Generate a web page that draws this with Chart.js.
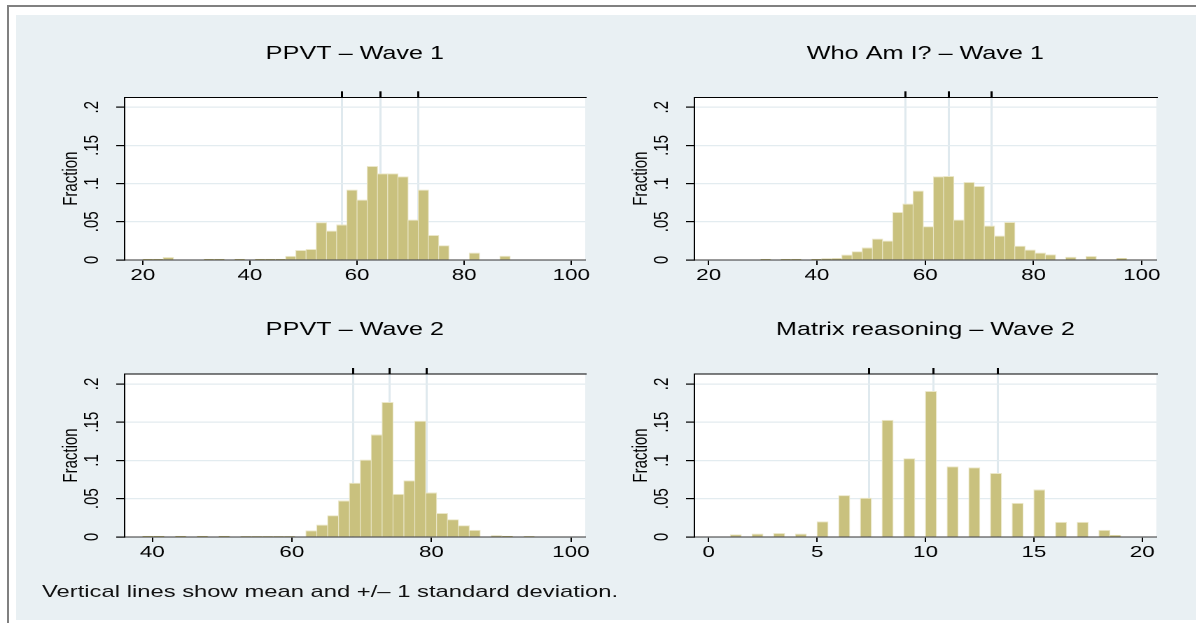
<!DOCTYPE html>
<html>
<head>
<meta charset="utf-8">
<script src="https://cdn.jsdelivr.net/npm/chart.js@4.4.1/dist/chart.umd.min.js"></script>
<style>
  html, body { margin: 0; padding: 0; background: #fff; overflow: hidden; }
  body { width: 1196px; height: 623px; position: relative; font-family: 'Liberation Sans', Arial, sans-serif; }
  #frameL { position: absolute; left: 7px; top: 5px; width: 2px; height: 618px; background: #808080; }
  #frameT { position: absolute; left: 7px; top: 5px; width: 1189px; height: 2px; background: #808080; }
  #bg { position: absolute; left: 16px; top: 15px; right: 0; height: 605px; background: #e9f0f3; }
  /* stata export was stretched sideways, so draw narrow and scale x */
  #wrap { position: absolute; left: 0; top: 0; width: 855px; height: 623px; transform: scaleX(1.4); transform-origin: 0 0; }
  #wrap canvas { position: absolute; }
  #note { position: absolute; left: 30px; top: 582px; font-size: 17px; line-height: 20px; color: #111; white-space: nowrap; }
</style>
</head>
<body>
<div id="frameL"></div>
<div id="frameT"></div>
<div id="bg"></div>
<div id="wrap">
  <canvas id="c1" width="414" height="270" style="left:9px;top:20px"></canvas>
  <canvas id="c2" width="415" height="270" style="left:416px;top:20px"></canvas>
  <canvas id="c3" width="414" height="270" style="left:9px;top:297px"></canvas>
  <canvas id="c4" width="415" height="270" style="left:416px;top:297px"></canvas>
  <div id="note">Vertical lines show mean and +/– 1 standard deviation.</div>
</div>

<script>
// fractions per bin
const ppvt1Fractions = [0.001, 0.001, 0.0035, 0, 0, 0, 0.001, 0.001, 0, 0.001, 0, 0.001, 0.001, 0.001,
  0.005, 0.0127, 0.014, 0.049, 0.038, 0.046, 0.0917, 0.0786, 0.1227, 0.113, 0.113, 0.109,
  0.0524, 0.0917, 0.0323, 0.0188, 0, 0, 0.0092, 0, 0, 0.0052];
const whoAmIFractions = [0, 0, 0, 0, 0, 0.001, 0, 0.001, 0.001, 0, 0.001, 0.0015, 0.002, 0.0066,
  0.011, 0.016, 0.0275, 0.0249, 0.0624, 0.0734, 0.0904, 0.0437, 0.109, 0.1096, 0.0524, 0.1017,
  0.0965, 0.0445, 0.0314, 0.0493, 0.0183, 0.0131, 0.0092, 0.007, 0, 0.0039, 0, 0.0048, 0, 0, 0.0022];
const ppvt2Fractions = [0.001, 0.001, 0, 0.001, 0, 0.001, 0, 0.001, 0, 0.0008, 0.0008, 0.0008, 0.0008,
  0.0008, 0, 0.0083, 0.0158, 0.028, 0.0473, 0.0705, 0.1007, 0.1335, 0.176, 0.056, 0.0735, 0.1514,
  0.0578, 0.031, 0.0228, 0.0149, 0.0088, 0, 0.0015, 0.001, 0, 0.0008];
const matrixFractions = [0.003, 0, 0.004, 0, 0.0048, 0, 0.004, 0, 0.020, 0, 0.0543, 0, 0.0508, 0,
  0.1527, 0, 0.1024, 0, 0.1904, 0, 0.0919, 0, 0.0906, 0, 0.0832, 0, 0.0442, 0, 0.0617, 0,
  0.0193, 0, 0.0193, 0, 0.0088, 0.0022];

// bin start and width of each histogram
const ppvt1Bins = [20, 1.905];
const whoAmIBins = [20.18, 1.879];
const ppvt2Bins = [38.6, 1.561];
const matrixBins = [1, 0.5];

// mean - sd, mean, mean + sd
const ppvt1Lines = [57.2, 64.35, 71.45];
const whoAmILines = [56.3, 64.3, 72.3];
const ppvt2Lines = [68.8, 74.05, 79.3];
const matrixLines = [7.4, 10.38, 13.35];

const scoreTicks = [20, 40, 60, 80, 100];
const ppvt2Ticks = [40, 60, 80, 100];
const matrixTicks = [0, 5, 10, 15, 20];
const yTicks = [0, 0.05, 0.1, 0.15, 0.2];

Chart.defaults.font.family = "'Liberation Sans', Arial, sans-serif";
Chart.defaults.color = '#000';

const plotBg = {
  id: 'plotBg',
  beforeDraw(chart) {
    const { ctx, chartArea: a } = chart;
    ctx.save();
    ctx.fillStyle = '#fff';
    ctx.fillRect(a.left, a.top, a.right - a.left, a.bottom - a.top);
    ctx.restore();
  }
};

function yLabel(v) {
  return v === 0 ? '0' : String(v).replace(/^0/, '');
}

function drawHist(id, title, fractions, bins, lines, xTicks, xMin, xMax, top) {
  const [start, width] = bins;
  new Chart(document.getElementById(id), {
    type: 'bar',
    data: {
      datasets: [{
        data: fractions.map((f, i) => ({ x: start + width * (i + 0.5), y: f })),
        backgroundColor: '#c9c17e',
        borderColor: '#ebe7c9',
        borderWidth: { top: 1, left: 0.6, right: 0.6, bottom: 0 },
        barPercentage: 1,
        categoryPercentage: 1
      }]
    },
    plugins: [plotBg],
    options: {
      responsive: false,
      devicePixelRatio: 2,
      animation: false,
      events: [],
      layout: { padding: { left: 0, right: 5, top: 0, bottom: 0 } },
      plugins: {
        legend: { display: false },
        tooltip: { enabled: false },
        title: {
          display: true,
          text: title,
          fullSize: false,
          color: '#000',
          font: { size: 18, weight: 'normal' },
          padding: top
        }
      },
      scales: {
        x: {
          type: 'linear',
          min: xMin,
          max: xMax,
          offset: false,
          afterBuildTicks: s => { s.ticks = xTicks.map(v => ({ value: v })); },
          afterFit: s => { s.height = 30; },
          ticks: { font: { size: 16 }, padding: 1, maxRotation: 0, autoSkip: false },
          grid: { drawOnChartArea: false, offset: false, tickLength: 5, tickColor: '#000' },
          border: { color: '#333', z: 1 }
        },
        x2: {
          type: 'linear',
          position: 'top',
          min: xMin,
          max: xMax,
          offset: false,
          afterBuildTicks: s => { s.ticks = lines.map(v => ({ value: v })); },
          afterFit: s => { s.height = 6; },
          ticks: { display: false },
          grid: { color: '#dfe9ee', lineWidth: 1.5, offset: false, tickLength: 6, tickColor: '#000' },
          border: { color: '#000', z: 1 }
        },
        y: {
          min: 0,
          max: 0.213,
          afterBuildTicks: s => { s.ticks = yTicks.map(v => ({ value: v })); },
          afterFit: s => { s.width = 80; },
          ticks: {
            minRotation: 90,
            maxRotation: 90,
            crossAlign: 'center',
            padding: 6.9,
            font: { size: 15 },
            callback: v => yLabel(v)
          },
          grid: { color: '#e3ecf0', lineWidth: 1.2, tickLength: 6, tickColor: '#000' },
          border: { color: '#000', z: 1 },
          title: { display: true, text: 'Fraction', font: { size: 15 }, padding: { top: 32.9, bottom: 0 } }
        }
      }
    }
  });
}

const topPad = { top: 23, bottom: 26.7 };
const lowPad = { top: 22, bottom: 27.4 };

drawHist('c1', 'PPVT – Wave 1', ppvt1Fractions, ppvt1Bins, ppvt1Lines, scoreTicks, 16.6, 102.6, topPad);
drawHist('c2', 'Who Am I? – Wave 1', whoAmIFractions, whoAmIBins, whoAmILines, scoreTicks, 17.36, 102.7, topPad);
drawHist('c3', 'PPVT – Wave 2', ppvt2Fractions, ppvt2Bins, ppvt2Lines, ppvt2Ticks, 36.03, 102.05, lowPad);
drawHist('c4', 'Matrix reasoning – Wave 2', matrixFractions, matrixBins, matrixLines, matrixTicks, -0.66, 20.65, lowPad);
</script>
</body>
</html>
